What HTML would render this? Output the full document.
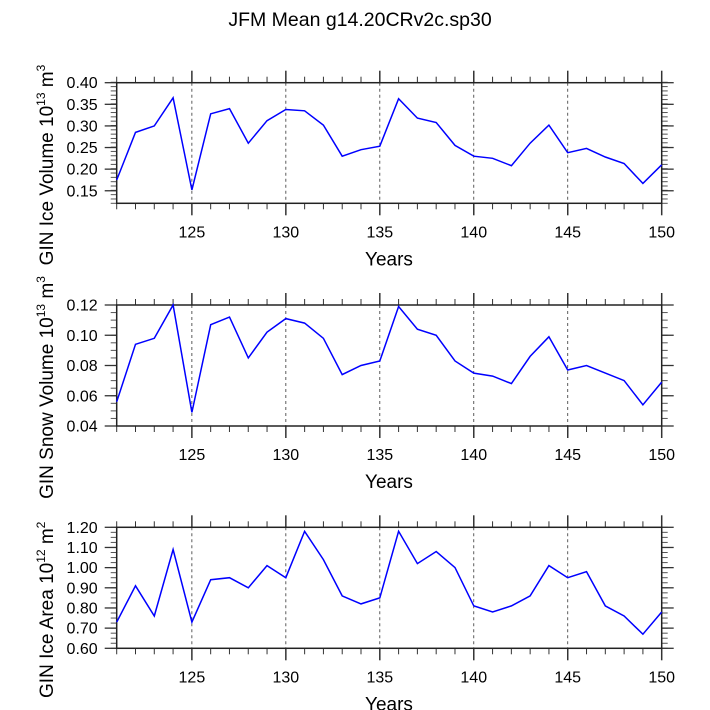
<!DOCTYPE html>
<html><head><meta charset="utf-8"><style>
body{margin:0;background:#fff;}
svg{display:block;font-family:"Liberation Sans",sans-serif;}
</style></head><body>
<svg id="c" width="710" height="710">
<text x="360" y="26" font-size="19.5" text-anchor="middle">JFM Mean g14.20CRv2c.sp30</text>
</svg>
<script>
const years = [121,122,123,124,125,126,127,128,129,130,131,132,133,134,135,136,137,138,139,140,141,142,143,144,145,146,147,148,149,150];
const iceVolume = [0.175,0.285,0.300,0.365,0.152,0.328,0.340,0.260,0.312,0.338,0.335,0.302,0.230,0.245,0.253,0.363,0.318,0.308,0.255,0.230,0.225,0.208,0.260,0.302,0.238,0.248,0.228,0.213,0.167,0.210];
const snowVolume = [0.056,0.094,0.098,0.120,0.049,0.107,0.112,0.085,0.102,0.111,0.108,0.098,0.074,0.080,0.083,0.119,0.104,0.100,0.083,0.075,0.073,0.068,0.086,0.099,0.077,0.080,0.075,0.070,0.054,0.069];
const iceArea = [0.73,0.91,0.76,1.09,0.73,0.94,0.95,0.90,1.01,0.95,1.18,1.04,0.86,0.82,0.85,1.18,1.02,1.08,1.00,0.81,0.78,0.81,0.86,1.01,0.95,0.98,0.81,0.76,0.67,0.78];
const xTicks = [125,130,135,140,145,150];
const iceVolTicks = [0.15,0.20,0.25,0.30,0.35,0.40];
const snowTicks = [0.04,0.06,0.08,0.10,0.12];
const areaTicks = [0.60,0.70,0.80,0.90,1.00,1.10,1.20];

const NS="http://www.w3.org/2000/svg", svg=document.getElementById('c');
function mk(tag,attrs,parent){const e=document.createElementNS(NS,tag);for(const k in attrs)e.setAttribute(k,attrs[k]);(parent||svg).appendChild(e);return e;}
const L=116.7,R=661.7;
function panel(key,top,bot,ymin,ymax,vals,yt,dec,minorStep,titleMain,sup,unit,usup){
  const g=mk('g',{});
  
  
  const xs=v=>L+(v-121)/(150-121)*(R-L);
  const ys=v=>bot-(v-ymin)/(ymax-ymin)*(bot-top);
  xTicks.forEach(t=>{if(t<150){const l=mk('line',{x1:xs(t),x2:xs(t),y1:top,y2:bot,stroke:'#333','stroke-width':0.8,'stroke-dasharray':'3,3'},g);
    
    }});
  for(let y=121;y<=150;y++){const len=(y%5==0)?12:6;
    mk('line',{x1:xs(y),x2:xs(y),y1:bot,y2:bot+len,stroke:'#333','stroke-width':y%5==0?1.5:1},g);
    mk('line',{x1:xs(y),x2:xs(y),y1:top,y2:top-len,stroke:'#333','stroke-width':y%5==0?1.5:1},g);}
  const n=Math.round((ymax-ymin)/minorStep);
  for(let i=0;i<=n;i++){const v=ymin+i*minorStep,y=ys(v);
    mk('line',{x1:L,x2:L-6,y1:y,y2:y,stroke:'#555','stroke-width':1},g);
    mk('line',{x1:R,x2:R+6,y1:y,y2:y,stroke:'#555','stroke-width':1},g);}
  yt.forEach(t=>{const y=ys(t);
    mk('line',{x1:L,x2:L-12,y1:y,y2:y,stroke:'#333','stroke-width':1.3},g);
    mk('line',{x1:R,x2:R+12,y1:y,y2:y,stroke:'#333','stroke-width':1.3},g);
    const tx=mk('text',{x:L-19,y:y+5.5,'font-size':16,'text-anchor':'end'},g);tx.textContent=t.toFixed(dec);
    
    });
  xTicks.forEach(t=>{const tx=mk('text',{x:xs(t),y:bot+34,'font-size':16,'text-anchor':'middle'},g);tx.textContent=t;
    
    });
  const fr=mk('rect',{x:L,y:top,width:R-L,height:bot-top,fill:'none',stroke:'#222','stroke-width':1.5},g);
  
  
  const pts=years.map((yr,i)=>xs(yr).toFixed(1)+','+ys(vals[i]).toFixed(1)).join(' ');
  const pl=mk('polyline',{points:pts,fill:'none',stroke:'#0000ff','stroke-width':1.5},g);
  
  
  const xt=mk('text',{x:389,y:bot+62,'font-size':19,'text-anchor':'middle'},g);xt.textContent='Years';
  
  
  const cy=(top+bot)/2+22;
  const yt2=mk('text',{x:0,y:0,'font-size':19,'text-anchor':'middle',transform:`translate(53,${cy}) rotate(-90)`},g);
  yt2.innerHTML=`${titleMain}<tspan font-size="12" dy="-8">${sup}</tspan><tspan dy="8"> ${unit}</tspan><tspan font-size="12" dy="-8">${usup}</tspan>`;
  
  
}
panel('ice-volume',82.7,203.3,0.121,0.40,iceVolume,iceVolTicks,2,0.01,'GIN Ice Volume 10','13','m','3');
panel('snow-volume',305,426,0.04,0.12,snowVolume,snowTicks,2,0.005,'GIN Snow Volume 10','13','m','3');
panel('ice-area',527.3,648.3,0.60,1.20,iceArea,areaTicks,2,0.025,'GIN Ice Area 10','12','m','2');
</script>
</body></html>
